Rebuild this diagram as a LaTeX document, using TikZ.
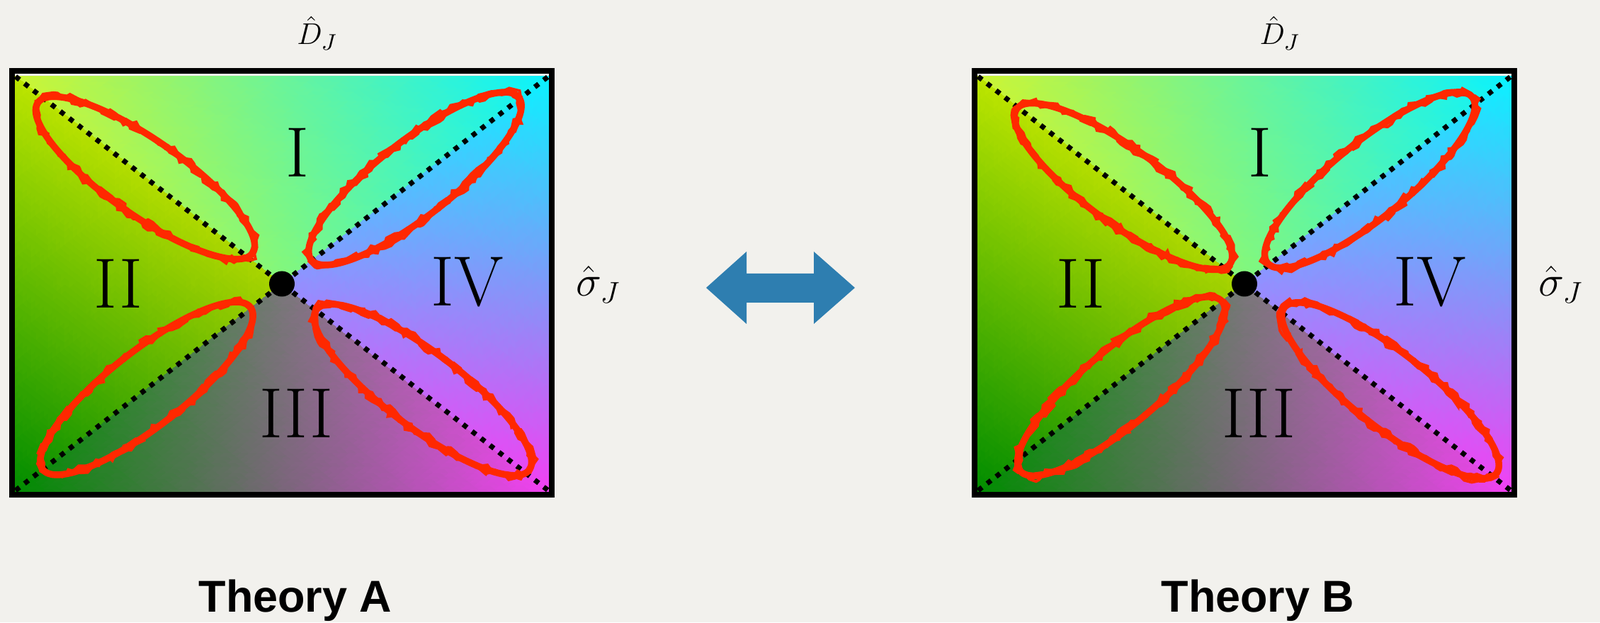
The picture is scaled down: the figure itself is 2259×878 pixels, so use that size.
\documentclass[tikz,border=0pt]{standalone}
\usepackage{fontspec}
\usepackage{pgfplots}
\pgfplotsset{compat=1.18}
\usetikzlibrary{decorations.pathmorphing}
\newfontfamily\theoryfont{Liberation Sans}
\definecolor{paper}{RGB}{242,241,237}
\definecolor{loopred}{RGB}{255,40,0}
\definecolor{swapblue}{RGB}{46,126,176}

\begin{document}
\begin{tikzpicture}[
  x=0.01cm,y=0.01cm,
  frame/.style={draw=black,line width=2.28pt},
  diag/.style={draw=black,line width=2pt,dash pattern=on 2pt off 2.55pt},
  blob/.style={draw=loopred,line width=2.7pt},
  roughblob/.style={draw=loopred,line width=1.1pt,decorate,
    decoration={random steps,segment length=2.2pt,amplitude=1.2pt}},
  numeral/.style={inner sep=0pt,font=\fontsize{28.5}{30}\selectfont},
  dlabel/.style={inner sep=0pt,anchor=base,font=\fontsize{13}{14}\selectfont},
  slabel/.style={inner sep=0pt,anchor=base,font=\fontsize{17.5}{19}\selectfont},
  theory/.style={inner sep=0pt,anchor=base,font=\theoryfont\bfseries\fontsize{17.9}{20}\selectfont}
]
\useasboundingbox[fill=paper] (0,0) rectangle (2259,878);

% colour field: four triangles per panel
\begin{axis}[hide axis,x=0.01cm,y=0.01cm,disabledatascaling,anchor=origin,at={(0,0)},
  xmin=0,xmax=2259,ymin=0,ymax=878,clip=false]
\addplot[patch,patch type=triangle,shader=interp,mesh/color input=explicit,
  point meta=explicit symbolic]
  table[meta=c,row sep=\\] {
  x y c \\
  21 771 rgb=0.80,0.96,0.20 \\  775 771 rgb=0.04,0.95,1.00 \\  398 477.5 rgb=0.52,0.97,0.48 \\
  21 771 rgb=0.74,0.90,0.00 \\  21 184 rgb=0.00,0.55,0.00 \\  398 477.5 rgb=0.66,0.83,0.00 \\
  21 184 rgb=0.00,0.55,0.00 \\  775 184 rgb=0.95,0.25,0.95 \\  398 477.5 rgb=0.47,0.47,0.47 \\
  775 771 rgb=0.04,0.95,1.00 \\  775 184 rgb=0.95,0.25,0.95 \\  398 477.5 rgb=0.58,0.56,1.00 \\
  1380 771 rgb=0.80,0.96,0.20 \\  2134 771 rgb=0.04,0.95,1.00 \\  1757 477.5 rgb=0.52,0.97,0.48 \\
  1380 771 rgb=0.74,0.90,0.00 \\  1380 184 rgb=0.00,0.55,0.00 \\  1757 477.5 rgb=0.66,0.83,0.00 \\
  1380 184 rgb=0.00,0.55,0.00 \\  2134 184 rgb=0.95,0.25,0.95 \\  1757 477.5 rgb=0.47,0.47,0.47 \\
  2134 771 rgb=0.04,0.95,1.00 \\  2134 184 rgb=0.95,0.25,0.95 \\  1757 477.5 rgb=0.58,0.56,1.00 \\
  };
\end{axis}

\foreach \s/\t in {0/A,1359/B}{
  \draw[frame] (\s+17,180) rectangle (\s+779,778);
  \coordinate (c\t) at (\s+398,477.5);
  \draw[diag] (\s+22,770) -- (c\t) -- (\s+774,186);
  \draw[diag] (\s+22,186) -- (c\t) -- (\s+774,770);
}

% red loops along the diagonals
\foreach \x/\y/\a/\r in {205/627/-35/185, 586/626/38/186, 207/330/38/186, 597/328/-37/188,
  1586/615/-36/186, 1934/624/39/186, 1583/333/40/186, 1963/327/-38/190}{
  \draw[blob,rotate around={\a:(\x,\y)}] (\x,\y) ellipse [x radius=\r,y radius=53];
  \draw[roughblob,rotate around={\a:(\x,\y)}] (\x,\y) ellipse [x radius=\r+3,y radius=56];
  \draw[roughblob,rotate around={\a:(\x,\y)}] (\x,\y) ellipse [x radius=\r-3,y radius=50];
}

\foreach \s/\t in {0/A,1359/B}{
  \fill (c\t) circle (18);
  \node[numeral] (I\t) at (\s+420,663) {I};
  \node[numeral] (II\t) at (\s+167,478) {II};
  \node[numeral] (III\t) at (\s+418,295) {III};
  \node[numeral] (IV\t) at (\s+660,480) {IV};
  \node[dlabel] (D\t) at (\s+448,815) {$\hat{D}_J$};
  \node[slabel] (sig\t) at (\s+845,460) {$\hat{\sigma}_J$};
  \node[theory] (th\t) at (\s+417,15) {Theory \t};
}

% two-way arrow between the panels
\fill[swapblue] (997,472) -- (1054,523) -- (1054,492) -- (1149,492) -- (1149,523)
  -- (1207,472) -- (1149,421) -- (1149,451) -- (1054,451) -- (1054,421) -- cycle;
\end{tikzpicture}
\end{document}
